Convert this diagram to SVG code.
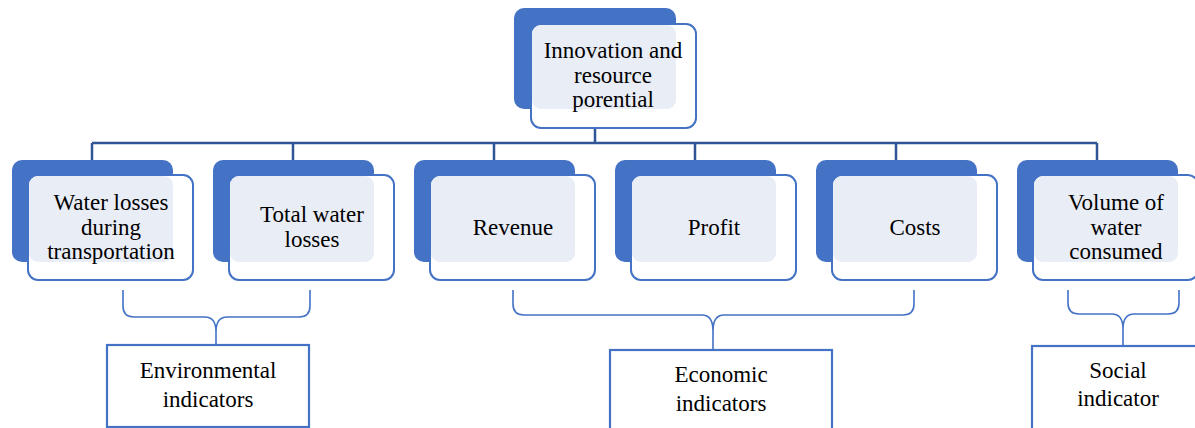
<svg xmlns="http://www.w3.org/2000/svg" width="1195" height="428" viewBox="0 0 1195 428">
  <style>
    .back { fill: #4472C4; }
    .front { fill: #FFFFFF; stroke: #4472C4; stroke-width: 2; }
    .tint { fill: #E9EDF6; }
    .lbl { font-family: 'Liberation Serif', 'Tinos', 'DejaVu Serif', serif; font-size: 23px; fill: #000; text-anchor: middle; }
    .bus { fill: none; stroke: #2F5597; stroke-width: 2.5; }
    .brace { fill: none; stroke: #4472C4; stroke-width: 1.6; }
    .group { fill: #FFFFFF; stroke: #4472C4; stroke-width: 2.2; }
  </style>

  <rect width="1195" height="428" fill="#FFFFFF"/>

  <!-- tree connectors -->
  <g id="connectors">
    <path class="bus" d="M595,109 V143 M92,143 H1097 M92,143 V160 M293,143 V160 M494,143 V160 M695,143 V160 M896,143 V160 M1097,143 V160"/>
    <!-- braces gathering indicators into groups -->
    <path class="brace" d="M123,290 V306 Q123,317 134,317 H205 Q216,317 216,332 V345 M310,290 V306 Q310,317 299,317 H227 Q216,317 216,332"/>
    <path class="brace" d="M513,290 V304 Q513,315 524,315 H702 Q713,315 713,331 V350 M914,290 V304 Q914,315 903,315 H724 Q713,315 713,331"/>
    <path class="brace" d="M1068,290 V303 Q1068,314 1079,314 H1112 Q1123,314 1123,329 V346 M1179,290 V303 Q1179,314 1168,314 H1134 Q1123,314 1123,329"/>
  </g>

  <!-- top node -->
  <g id="node-innovation">
    <rect class="back" x="514" y="8" width="162" height="101" rx="10"/>
    <rect class="front" x="531" y="24" width="165" height="104" rx="10"/>
    <rect class="tint" x="532" y="25" width="144" height="84" rx="9"/>
    <text class="lbl" font-family="Liberation Serif, serif" x="613" y="58">Innovation and</text>
    <text class="lbl" font-family="Liberation Serif, serif" x="613" y="83">resource</text>
    <text class="lbl" font-family="Liberation Serif, serif" x="613" y="107">porential</text>
  </g>

  <!-- indicator nodes -->
  <g id="node-water-transport">
    <rect class="back" x="12" y="160" width="161" height="102" rx="10"/>
    <rect class="front" x="28" y="175" width="165" height="105" rx="10"/>
    <rect class="tint" x="29" y="176" width="144" height="86" rx="9"/>
    <text class="lbl" x="111" y="210">Water losses</text>
    <text class="lbl" x="111" y="235">during</text>
    <text class="lbl" x="111" y="259">transportation</text>
  </g>

  <g id="node-total-losses">
    <rect class="back" x="213" y="160" width="161" height="102" rx="10"/>
    <rect class="front" x="229" y="175" width="165" height="105" rx="10"/>
    <rect class="tint" x="230" y="176" width="144" height="86" rx="9"/>
    <text class="lbl" x="312" y="222">Total water</text>
    <text class="lbl" x="312" y="247">losses</text>
  </g>

  <g id="node-revenue">
    <rect class="back" x="414" y="160" width="161" height="102" rx="10"/>
    <rect class="front" x="430" y="175" width="165" height="105" rx="10"/>
    <rect class="tint" x="431" y="176" width="144" height="86" rx="9"/>
    <text class="lbl" x="513" y="235">Revenue</text>
  </g>

  <g id="node-profit">
    <rect class="back" x="615" y="160" width="161" height="102" rx="10"/>
    <rect class="front" x="631" y="175" width="165" height="105" rx="10"/>
    <rect class="tint" x="632" y="176" width="144" height="86" rx="9"/>
    <text class="lbl" x="714" y="235">Profit</text>
  </g>

  <g id="node-costs">
    <rect class="back" x="816" y="160" width="161" height="102" rx="10"/>
    <rect class="front" x="832" y="175" width="165" height="105" rx="10"/>
    <rect class="tint" x="833" y="176" width="144" height="86" rx="9"/>
    <text class="lbl" x="915" y="235">Costs</text>
  </g>

  <g id="node-water-consumed">
    <rect class="back" x="1017" y="160" width="161" height="102" rx="10"/>
    <rect class="front" x="1033" y="175" width="165" height="105" rx="10"/>
    <rect class="tint" x="1034" y="176" width="144" height="86" rx="9"/>
    <text class="lbl" x="1116" y="210">Volume of</text>
    <text class="lbl" x="1116" y="235">water</text>
    <text class="lbl" x="1116" y="259">consumed</text>
  </g>

  <!-- indicator groups -->
  <g id="group-environmental">
    <rect class="group" x="107" y="345" width="202" height="82"/>
    <text class="lbl" x="208" y="378">Environmental</text>
    <text class="lbl" x="208" y="407">indicators</text>
  </g>

  <g id="group-economic">
    <rect class="group" x="610" y="350" width="222" height="90"/>
    <text class="lbl" x="721" y="382">Economic</text>
    <text class="lbl" x="721" y="411">indicators</text>
  </g>

  <g id="group-social">
    <rect class="group" x="1032" y="346" width="172" height="94"/>
    <text class="lbl" x="1118" y="378">Social</text>
    <text class="lbl" x="1118" y="406">indicator</text>
  </g>
</svg>
